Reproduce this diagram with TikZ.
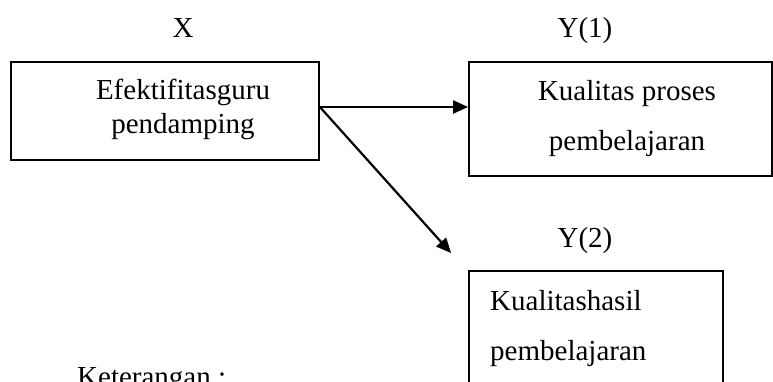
\documentclass[tikz,border=0pt]{standalone}
\usepackage{fontspec}
\setmainfont{Liberation Serif}
\usetikzlibrary{arrows.meta}

\tikzset{
  kotak/.style={draw, line width=1.8pt, inner sep=0pt},
  teks/.style={font=\fontsize{29}{34}\selectfont, inner sep=0pt},
  panah/.style={line width=2.2pt, -{Triangle[length=15pt,width=13pt]}},
}

\begin{document}
\begin{tikzpicture}[x=1pt,y=-1pt]
\clip (0,0) rectangle (773,381);
% kotak variabel
\node[kotak, minimum width=308pt, minimum height=98pt]  (efek)   at (165,111)   {};
\node[kotak, minimum width=303pt, minimum height=114pt] (proses) at (620.5,119) {};
\node[kotak, minimum width=254pt, minimum height=140pt] (hasil)  at (596,341)   {};
% label variabel
\node[teks, anchor=base] (lx)  at (183,37)  {X};
\node[teks, anchor=base] (ly1) at (585,37)  {Y(1)};
\node[teks, anchor=base] (ly2) at (585,247) {Y(2)};
% isi kotak (base = baris terakhir)
\node[teks, anchor=base, align=center] (tefek) at (183,133)
  {Efektifitasguru\\pendamping};
\node[teks, anchor=base, align=center, font=\fontsize{29}{50}\selectfont] (tproses) at (627,150)
  {Kualitas proses\\pembelajaran};
\node[teks, anchor=base west, align=left, font=\fontsize{29}{50}\selectfont] (thasil) at (490,360)
  {Kualitashasil\\pembelajaran};
\node[teks, anchor=base west] (ket) at (77,386) {Keterangan :};
% panah
\coordinate (pangkal) at ([yshift=4pt]efek.east);
\draw[panah] (pangkal) -- (pangkal -| proses.west);
\draw[panah] (pangkal) -- ([xshift=-17pt,yshift=17pt]hasil.north west);
\end{tikzpicture}
\end{document}
